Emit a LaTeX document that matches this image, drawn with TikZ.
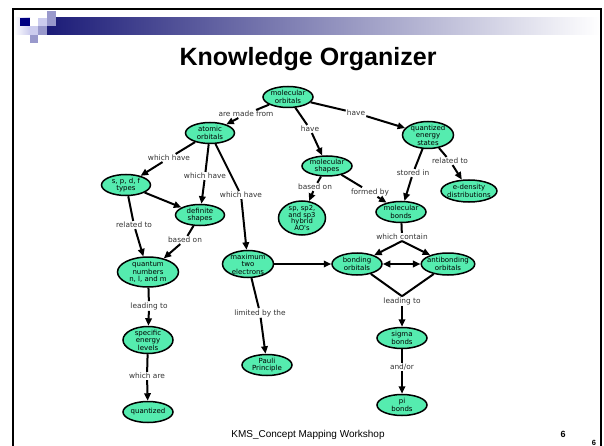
\documentclass[tikz,border=0pt]{standalone}
\usepackage{fontspec}
\setmainfont{Liberation Sans}
\newfontfamily\mapfont{DejaVu Sans}
\usetikzlibrary{shapes.geometric,arrows.meta}
\definecolor{conceptgreen}{RGB}{85,236,175}
\definecolor{pixnavy}{RGB}{0,0,128}
\definecolor{pixlight}{RGB}{204,204,238}
\definecolor{pixmid}{RGB}{153,153,204}
\definecolor{bannernavy}{RGB}{28,28,120}

\tikzset{
  concept/.style={ellipse, draw=black, line width=1.5pt, fill=conceptgreen,
    inner sep=-2pt, align=center, font=\mapfont\fontsize{7}{7.4}\selectfont},
  linklabel/.style={inner sep=1pt, align=center, text=black!80,
    font=\mapfont\fontsize{7.4}{8}\selectfont},
  link/.style={line width=2pt},
  arrowlink/.style={link, -{Triangle[length=7.5pt,width=6.5pt]}}
}

\begin{document}
\begin{tikzpicture}[x=1pt, y=-1pt]
\useasboundingbox (0,0) rectangle (604,446);
% slide frame and banner
\shade[left color=bannernavy, right color=white] (47,18) rectangle (600,35);
\shade[left color=white, right color=pixlight] (14,18) rectangle (30,35);
\fill[pixnavy] (20,18) rectangle (30,26);
\fill[white] (30,18) rectangle (38,26);
\fill[pixlight] (38,18) rectangle (47,26);
\fill[pixmid] (47,11) rectangle (56,26);
\fill[pixlight] (30,26) rectangle (38,35);
\fill[pixmid] (38,26) rectangle (47,35);
\fill[pixmid] (30,35) rectangle (38,43);
\draw[line width=2.4pt] (13,446) -- (13,9) -- (601,9) -- (601,446);
\node[font=\bfseries\fontsize{25}{28}\selectfont] (title) at (308,59) {Knowledge Organizer};
\node[font=\fontsize{10}{12}\selectfont] (footer) at (308,435) {KMS\_Concept Mapping Workshop};
\node[font=\bfseries\fontsize{9}{10}\selectfont] (pagenum) at (563,434) {6};
\node[font=\bfseries\fontsize{7.5}{8}\selectfont] (pagenumb) at (594,443) {6};

% concepts
\node[concept, minimum width=50pt, minimum height=21pt] (molorb) at (288,97) {molecular\\orbitals};
\node[concept, minimum width=49pt, minimum height=21pt] (atomic) at (210,133) {atomic\\orbitals};
\node[concept, minimum width=49pt, minimum height=21pt] (spdf) at (126,185) {s, p, d, f\\types};
\node[concept, minimum width=49pt, minimum height=21pt] (defshape) at (200,215) {definite\\shapes};
\node[concept, minimum width=61pt, minimum height=30pt] (quantum) at (148,272) {quantum\\numbers\\n, l, and m};
\node[concept, minimum width=50pt, minimum height=27pt] (specific) at (148,340) {specific\\energy\\levels};
\node[concept, minimum width=50pt, minimum height=21pt] (quantized) at (148,412) {quantized};
\node[concept, minimum width=51pt, minimum height=27pt] (maxtwo) at (248,264) {maximum\\two\\electrons};
\node[concept, minimum width=50pt, minimum height=21pt] (pauli) at (267,365) {Pauli\\Principle};
\node[concept, minimum width=50pt, minimum height=20pt] (molshape) at (327,166) {molecular\\shapes};
\node[concept, minimum width=47pt, minimum height=34pt, font=\mapfont\fontsize{6.8}{6.7}\selectfont] (hybrid) at (302,218) {sp, sp2,\\and sp3\\hybrid\\AO's};
\node[concept, minimum width=51pt, minimum height=27pt] (qes) at (428,135) {quantized\\energy\\states};
\node[concept, minimum width=55pt, minimum height=22pt] (edensity) at (469,191) {e-density\\distributions};
\node[concept, minimum width=50pt, minimum height=21pt] (molbond) at (401,212) {molecular\\bonds};
\node[concept, minimum width=50pt, minimum height=22pt] (bonding) at (357,264) {bonding\\orbitals};
\node[concept, minimum width=52pt, minimum height=22pt] (antibond) at (448,264) {antibonding\\orbitals};
\node[concept, minimum width=50pt, minimum height=21pt] (sigma) at (402,338) {sigma\\bonds};
\node[concept, minimum width=50pt, minimum height=21pt] (pibond) at (402,405) {pi\\bonds};

% linking phrases
\node[linklabel] (lmade) at (246,114) {are made from};
\node[linklabel] (lhavea) at (310,129) {have};
\node[linklabel] (lhaveb) at (356,113) {have};
\node[linklabel] (lwhicha) at (169,158) {which have};
\node[linklabel] (lwhichb) at (205,176) {which have};
\node[linklabel] (lwhichc) at (241,195) {which have};
\node[linklabel] (lrela) at (134,225) {related to};
\node[linklabel] (lbaseda) at (185,240) {based on};
\node[linklabel] (lleada) at (149,306) {leading to};
\node[linklabel] (lare) at (147,376) {which are};
\node[linklabel] (llimit) at (260,313) {limited by the};
\node[linklabel] (lbasedb) at (315,187) {based on};
\node[linklabel] (lformed) at (370,192) {formed by};
\node[linklabel] (lstored) at (413,173) {stored in};
\node[linklabel] (lrelb) at (450,161) {related to};
\node[linklabel] (lcontain) at (402,237) {which contain};
\node[linklabel] (lleadb) at (402,301) {leading to};
\node[linklabel] (landor) at (402,367) {and/or};

% links
\draw[link] (molorb) -- (lmade);  \draw[arrowlink] (lmade) -- (atomic);
\draw[link] (molorb) -- (lhavea); \draw[arrowlink] (lhavea) -- (molshape);
\draw[link] (molorb) -- (lhaveb); \draw[arrowlink] (lhaveb) -- (qes);
\draw[link] (atomic) -- (lwhicha); \draw[arrowlink] (lwhicha) -- (spdf);
\draw[link] (atomic) -- (lwhichb); \draw[arrowlink] (lwhichb) -- (defshape);
\draw[link] (atomic) -- (lwhichc); \draw[arrowlink] (lwhichc) -- (maxtwo);
\draw[arrowlink] (spdf) -- (defshape);
\draw[link] (spdf) -- (lrela); \draw[arrowlink] (lrela) -- (quantum);
\draw[link] (defshape) -- (lbaseda); \draw[arrowlink] (lbaseda) -- (quantum);
\draw[link] (quantum) -- (lleada); \draw[arrowlink] (lleada) -- (specific);
\draw[link] (specific) -- (lare); \draw[arrowlink] (lare) -- (quantized);
\draw[link] (maxtwo) -- (llimit); \draw[arrowlink] (llimit) -- (pauli);
\draw[arrowlink] (maxtwo) -- (bonding);
\draw[link] (molshape) -- (lbasedb); \draw[arrowlink] (lbasedb) -- (hybrid);
\draw[link] (molshape) -- (lformed); \draw[arrowlink] (lformed) -- (molbond);
\draw[link] (qes) -- (lstored); \draw[arrowlink] (lstored) -- (molbond);
\draw[link] (qes) -- (lrelb); \draw[arrowlink] (lrelb) -- (edensity);
\draw[link] (molbond) -- (lcontain);
\draw[arrowlink] (lcontain.south) -- (bonding);
\draw[arrowlink] (lcontain.south) -- (antibond);
\draw[link, {Triangle[length=7.5pt,width=6.5pt]}-{Triangle[length=7.5pt,width=6.5pt]}] (bonding) -- (antibond);
\draw[link] (bonding) -- (lleadb.north);
\draw[link] (antibond) -- (lleadb.north);
\draw[arrowlink] (lleadb) -- (sigma);
\draw[link] (sigma) -- (landor); \draw[arrowlink] (landor) -- (pibond);
\end{tikzpicture}
\end{document}
